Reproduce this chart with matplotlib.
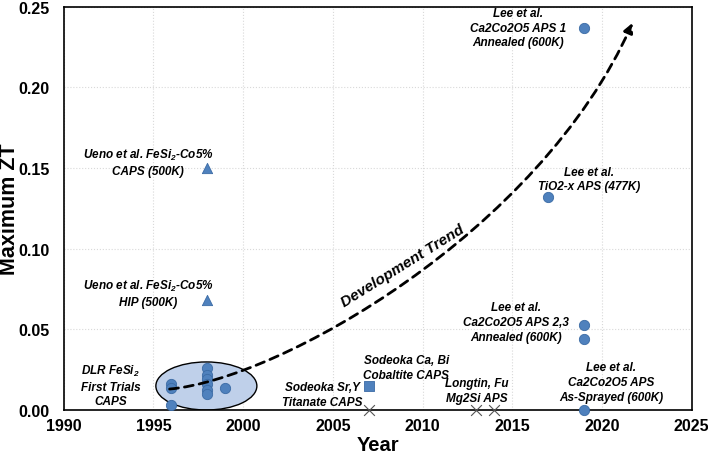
import matplotlib
matplotlib.use("Agg")
import matplotlib.pyplot as plt
from matplotlib.patches import Ellipse, FancyArrowPatch
from matplotlib.path import Path

plt.rcParams['font.family'] = ['Liberation Sans', 'DejaVu Sans']
plt.rcParams['mathtext.fontset'] = 'custom'
plt.rcParams['mathtext.rm'] = 'Liberation Sans:bold:italic'
plt.rcParams['mathtext.it'] = 'Liberation Sans:bold:italic'

# --- data ---
dlr_years = [1996, 1996, 1996, 1998, 1998, 1998, 1998, 1998, 1998, 1999]
dlr_zt = [0.016, 0.0135, 0.003, 0.026, 0.022, 0.019, 0.016, 0.0125, 0.010, 0.0135]

ueno_years = [1998, 1998]
ueno_zt = [0.150, 0.068]

sodeoka_sq_years = [2007]
sodeoka_sq_zt = [0.015]

x_years = [2007, 2013, 2014]
x_zt = [0.0, 0.0, 0.0]

lee_years = [2019, 2017, 2019, 2019, 2019]
lee_zt = [0.237, 0.132, 0.053, 0.044, 0.0]

# trend curve control points (year, ZT)
trend_pts = [(1995.9, 0.013), (2002.0, 0.019), (2016.5, 0.110), (2021.7, 0.240)]

blue = '#4F81BD'
edge = '#3B6BA5'

fig = plt.figure(figsize=(7.08, 4.6), dpi=100)
ax = fig.add_axes([0.090, 0.1065, 0.887, 0.8765])

ax.set_xlim(1990, 2025)
ax.set_ylim(0, 0.25)
ax.set_xticks(range(1990, 2026, 5))
ax.set_yticks([0, 0.05, 0.10, 0.15, 0.20, 0.25])
ax.set_yticklabels(['0.00', '0.05', '0.10', '0.15', '0.20', '0.25'])
ax.grid(True, color='#d9d9d9', linestyle=':', linewidth=0.8)
ax.set_axisbelow(True)
ax.tick_params(length=0, labelsize=11.5)
ax.tick_params(axis='y', pad=10)
ax.tick_params(axis='x', pad=6)
for lab in ax.get_xticklabels() + ax.get_yticklabels():
    lab.set_fontweight('bold')
for sp in ax.spines.values():
    sp.set_linewidth(1.2)
    sp.set_color('black')

ax.set_xlabel('Year', fontsize=14.5, fontweight='bold', labelpad=1)
ax.set_ylabel('Maximum ZT', fontsize=15.5, fontweight='bold')
ax.yaxis.set_label_coords(-0.070, 0.5)

# DLR group ellipse
ell = Ellipse((1997.95, 0.0149), 5.63, 0.0298, facecolor='#BFD0EA',
              edgecolor='black', linewidth=1, zorder=2)
ax.add_patch(ell)

ax.scatter(dlr_years, dlr_zt, s=55, color=blue, edgecolors=edge, linewidths=0.6, zorder=3)
ax.scatter(ueno_years, ueno_zt, s=55, marker='^', color=blue, edgecolors=edge,
           linewidths=0.6, zorder=3)
ax.scatter(sodeoka_sq_years, sodeoka_sq_zt, s=55, marker='s', color=blue,
           edgecolors=edge, linewidths=0.6, zorder=3)
ax.scatter(x_years, x_zt, s=60, marker='x', color='#555555', linewidths=0.8,
           zorder=4, clip_on=False)
ax.scatter(lee_years, lee_zt, s=55, color=blue, edgecolors=edge, linewidths=0.6,
           zorder=4, clip_on=False)

# development trend arrow
path = Path(trend_pts, [Path.MOVETO, Path.CURVE4, Path.CURVE4, Path.CURVE4])
arr = FancyArrowPatch(path=path, arrowstyle='-|>', mutation_scale=14,
                      linestyle=(0, (3.2, 2.2)), linewidth=2.0, color='black', zorder=5)
ax.add_patch(arr)
ax.text(2008.9, 0.0895, 'Development Trend', rotation=32, fontsize=11,
        fontweight='bold', style='italic', ha='center', va='center')

# annotations
ann = dict(fontsize=8.5, fontweight='bold', style='italic', ha='center',
           va='center', linespacing=1.3)
ax.text(2015.3, 0.237, 'Lee et al.\nCa2Co2O5 APS 1\nAnnealed (600K)', **ann)
ax.text(2019.3, 0.1433, 'Lee et al.\nTiO2-x APS (477K)', **ann)
ax.text(2015.2, 0.0546, 'Lee et al.\nCa2Co2O5 APS 2,3\nAnnealed (600K)', **ann)
ax.text(2020.5, 0.0174, 'Lee et al.\nCa2Co2O5 APS\nAs-Sprayed (600K)', **ann)
ax.text(1994.7, 0.154, 'Ueno et al. FeSi$_2$-Co5%\nCAPS (500K)', **ann)
ax.text(1994.7, 0.0726, 'Ueno et al. FeSi$_2$-Co5%\nHIP (500K)', **ann)
ax.text(1992.6, 0.0155, 'DLR FeSi$_2$\nFirst Trials\nCAPS', **ann)
ax.text(2009.1, 0.0264, 'Sodeoka Ca, Bi\nCobaltite CAPS', **ann)
ax.text(2004.4, 0.0096, 'Sodeoka Sr,Y\nTitanate CAPS', **ann)
ax.text(2013.0, 0.0121, 'Longtin, Fu\nMg2Si APS', **ann)

fig.savefig('out.png', dpi=100)
